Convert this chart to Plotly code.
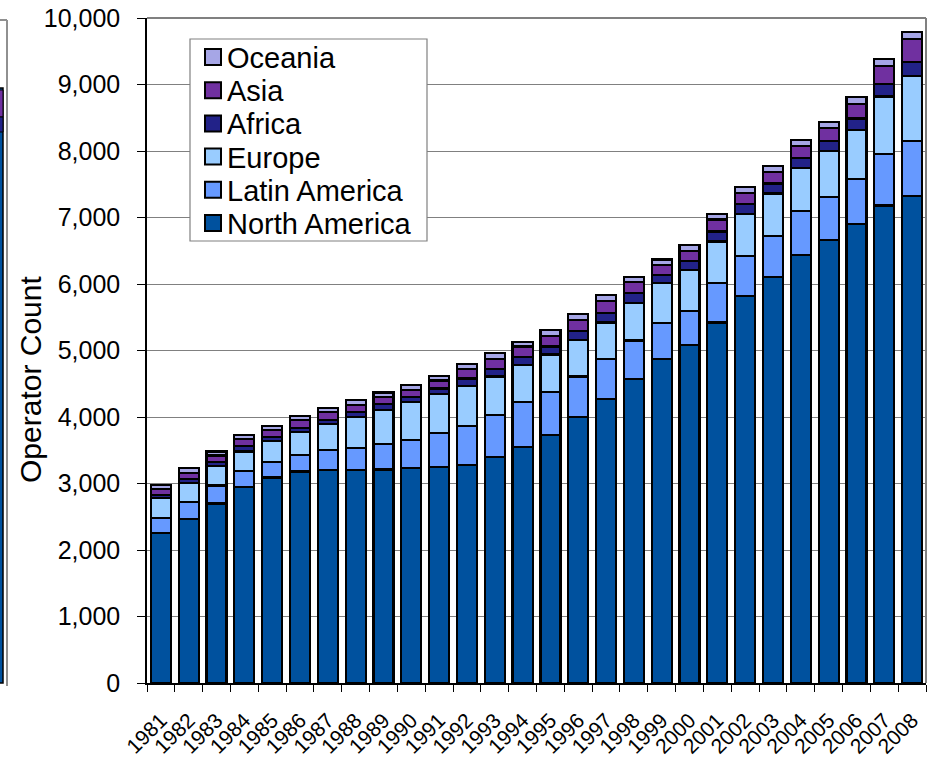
import plotly.graph_objects as go

years = [str(y) for y in range(1981, 2009)]

# cumulative tops (used to derive each segment)
north_america = [2250, 2470, 2700, 2950, 3090, 3180, 3200, 3200, 3210, 3230, 3250, 3280, 3400, 3550,
                 3730, 4000, 4270, 4570, 4870, 5080, 5420, 5820, 6110, 6440, 6660, 6900, 7180, 7320]
latin_top = [2480, 2720, 2970, 3190, 3320, 3430, 3500, 3530, 3600, 3660, 3760, 3870, 4030, 4220,
             4380, 4610, 4870, 5150, 5410, 5600, 6020, 6420, 6720, 7100, 7310, 7580, 7950, 8150]
europe_top = [2780, 3010, 3260, 3480, 3640, 3780, 3900, 4000, 4110, 4220, 4340, 4470, 4610, 4780,
              4940, 5160, 5420, 5720, 6010, 6210, 6640, 7050, 7360, 7750, 8000, 8320, 8820, 9130]
africa_top = [2830, 3070, 3320, 3560, 3700, 3840, 3960, 4070, 4190, 4300, 4430, 4580, 4720, 4900,
              5060, 5290, 5560, 5860, 6140, 6340, 6790, 7200, 7510, 7890, 8150, 8490, 9010, 9340]
asia_top = [2920, 3160, 3420, 3670, 3810, 3950, 4070, 4180, 4300, 4410, 4550, 4720, 4870, 5060,
            5220, 5460, 5740, 6030, 6280, 6500, 6970, 7370, 7680, 8080, 8350, 8710, 9280, 9680]
total = [2980, 3230, 3480, 3730, 3870, 4010, 4140, 4250, 4370, 4480, 4620, 4800, 4960, 5130,
         5310, 5550, 5830, 6110, 6370, 6590, 7050, 7460, 7770, 8170, 8440, 8810, 9380, 9790]

latin_america = [b - a for a, b in zip(north_america, latin_top)]
europe = [b - a for a, b in zip(latin_top, europe_top)]
africa = [b - a for a, b in zip(europe_top, africa_top)]
asia = [b - a for a, b in zip(africa_top, asia_top)]
oceania = [b - a for a, b in zip(asia_top, total)]

series_names = ["North America", "Latin America", "Europe", "Africa", "Asia", "Oceania"]
series_values = [north_america, latin_america, europe, africa, asia, oceania]
series_colors = ["#00519E", "#6699FF", "#99CCFF", "#222288", "#7030A0", "#A6A6E6"]

W, H = 932, 762
L, R, T, B = 147, 6, 18, 79
PW, PH = W - L - R, H - T - B


def px(x):
    return (x - L) / PW


def py(y):
    return (H - B - y) / PH


font = "Arial, Liberation Sans, sans-serif"

fig = go.Figure()
for name, vals, col in zip(series_names, series_values, series_colors):
    fig.add_trace(go.Bar(x=years, y=vals, name=name, showlegend=False,
                         marker=dict(color=col, line=dict(color="black", width=2.2))))

fig.update_layout(
    width=W, height=H,
    barmode="stack", bargap=0.28,
    margin=dict(l=L, r=R, t=T, b=B, autoexpand=False),
    paper_bgcolor="white", plot_bgcolor="white",
    font=dict(family=font, color="black"),
    showlegend=False,
)
fig.update_yaxes(range=[0, 10000], dtick=1000, tickformat=",d",
                 showgrid=True, gridcolor="#808080", gridwidth=1,
                 showline=True, linecolor="black", linewidth=1.5,
                 ticks="outside", ticklen=8, tickcolor="black",
                 tickfont=dict(size=25, family=font), ticklabelstandoff=12,
                 automargin=False)
fig.update_xaxes(type="category", tickangle=-45, tickfont=dict(size=21, family=font),
                 showline=True, linecolor="black", linewidth=1.5,
                 ticks="outside", ticklen=7, tickcolor="black", tickson="boundaries",
                 ticklabelstandoff=15, automargin=False)

# y-axis title
fig.add_annotation(text="Operator Count", textangle=-90, xref="paper", yref="paper",
                   x=px(31), y=py(380), showarrow=False, xanchor="center", yanchor="middle",
                   font=dict(size=30, family=font))

# plot area frame (top and right, gray)
fig.add_shape(type="line", xref="paper", yref="paper", x0=0, x1=1, y0=1, y1=1,
              line=dict(color="#808080", width=2))
fig.add_shape(type="line", xref="paper", yref="paper", x0=1, x1=1, y0=0, y1=1,
              line=dict(color="#808080", width=2))

# legend box (drawn manually to match the compact Excel legend)
fig.add_shape(type="rect", xref="paper", yref="paper", x0=px(190), x1=px(427), y0=py(39), y1=py(241),
              fillcolor="white", line=dict(color="#808080", width=1.2), layer="above")
for i, idx in enumerate(reversed(range(len(series_names)))):
    cy = 57 + i * 33.2
    fig.add_shape(type="rect", xref="paper", yref="paper",
                  x0=px(205), x1=px(221), y0=py(cy - 8), y1=py(cy + 8),
                  fillcolor=series_colors[idx], line=dict(color="black", width=2), layer="above")
    fig.add_annotation(text=series_names[idx], xref="paper", yref="paper",
                       x=px(225), y=py(cy + 1), showarrow=False, xanchor="left", yanchor="middle",
                       font=dict(size=29, family=font))

# fragment of the neighbouring chart cut off at the left edge
fig.add_shape(type="line", xref="paper", yref="paper", x0=px(7), x1=px(7), y0=py(20), y1=py(686),
              line=dict(color="#909090", width=2), layer="above")
fig.add_shape(type="line", xref="paper", yref="paper", x0=px(-2), x1=px(7), y0=py(20), y1=py(20),
              line=dict(color="#909090", width=2), layer="above")
fig.add_shape(type="rect", xref="paper", yref="paper", x0=px(-3), x1=px(3), y0=py(88), y1=py(683),
              fillcolor="#00519E", line=dict(color="black", width=1.5), layer="above")
fig.add_shape(type="rect", xref="paper", yref="paper", x0=px(-3), x1=px(3), y0=py(90), y1=py(117),
              fillcolor="#7030A0", line=dict(color="black", width=1), layer="above")
fig.add_shape(type="rect", xref="paper", yref="paper", x0=px(-3), x1=px(3), y0=py(117), y1=py(132),
              fillcolor="#222288", line=dict(color="black", width=1), layer="above")

fig.write_html("out.html")
